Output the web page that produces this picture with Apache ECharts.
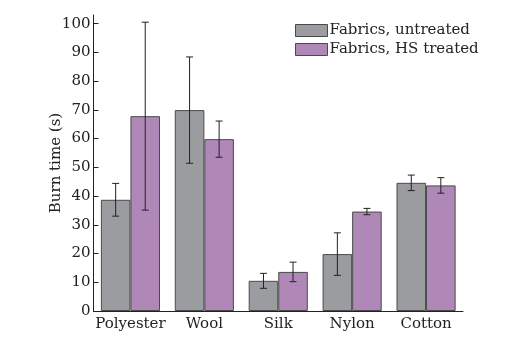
<!DOCTYPE html>
<html>
<head>
<meta charset="utf-8">
<script src="https://cdn.jsdelivr.net/npm/echarts@6/dist/echarts.min.js"></script>
<style>
html,body{margin:0;padding:0;background:#fff;}
#chart{width:532px;height:345px;}
</style>
</head>
<body>
<div id="chart"></div>
<script>
const categories = ['Polyester', 'Wool', 'Silk', 'Nylon', 'Cotton'];
const untreated = [38.7, 69.9, 10.5, 19.8, 44.6];
const untreatedErr = [5.7, 18.5, 2.6, 7.4, 2.7];
const treated = [67.8, 59.8, 13.6, 34.6, 43.7];
const treatedErr = [32.7, 6.3, 3.4, 1.1, 2.7];
const yTicks = [0, 10, 20, 30, 40, 50, 60, 70, 80, 90, 100];
const seriesNames = ['Fabrics, untreated', 'Fabrics, HS treated'];

const FONT = 'DejaVu Serif';
const TXT = '#222';

function errData(vals, errs) {
  return vals.map((v, i) => [i, v, errs[i]]);
}
function errRender(sign) {
  return function (params, api) {
    const i = api.value(0), v = api.value(1), e = api.value(2);
    const bw = api.size([1, 0])[0];
    const off = sign * bw * 0.2;
    const top = api.coord([i, v + e]);
    const bot = api.coord([i, v - e]);
    const x = top[0] + off;
    const c = 3.5;
    const st = { stroke: '#222', lineWidth: 1 };
    return {
      type: 'group',
      children: [
        { type: 'line', shape: { x1: x, y1: top[1], x2: x, y2: bot[1] }, style: st },
        { type: 'line', shape: { x1: x - c, y1: top[1], x2: x + c, y2: top[1] }, style: st },
        { type: 'line', shape: { x1: x - c, y1: bot[1], x2: x + c, y2: bot[1] }, style: st }
      ]
    };
  };
}

const chart = echarts.init(document.getElementById('chart'), null, { renderer: 'canvas' });
chart.setOption({
  animation: false,
  backgroundColor: '#fff',
  textStyle: { fontFamily: FONT, color: TXT },
  grid: { left: 93.5, right: 69, top: 15, bottom: 34, containLabel: false },
  legend: {
    data: seriesNames,
    orient: 'vertical',
    left: 295,
    top: 23,
    padding: 0,
    itemWidth: 32,
    itemHeight: 12,
    itemGap: 4,
    icon: 'rect',
    itemStyle: { borderWidth: 1, borderColor: '#4a4a4a' },
    textStyle: { fontFamily: FONT, fontSize: 15, color: TXT, padding: [0, 0, 0, -3] }
  },
  xAxis: {
    type: 'category',
    data: categories,
    axisLine: { lineStyle: { color: '#222', width: 1 } },
    axisTick: { inside: true, length: 5, lineStyle: { color: '#222' } },
    axisLabel: { fontFamily: FONT, fontSize: 15, color: TXT, margin: 6, interval: 0 },
    splitLine: { show: false }
  },
  yAxis: {
    type: 'value',
    min: 0,
    max: 103,
    interval: 10,
    name: 'Burn time (s)',
    nameLocation: 'middle',
    nameGap: 30,
    nameMoveOverlap: false,
    nameTextStyle: { fontFamily: FONT, fontSize: 15, color: TXT },
    axisLine: { show: true, lineStyle: { color: '#222', width: 1 } },
    axisTick: { show: true, inside: true, length: 5, lineStyle: { color: '#222' } },
    axisLabel: {
      fontFamily: FONT, fontSize: 15, color: TXT, margin: 3,
      showMaxLabel: false,
      formatter: v => (yTicks.indexOf(v) >= 0 ? String(v) : '')
    },
    splitLine: { show: false }
  },
  series: [
    {
      name: seriesNames[0], type: 'bar', data: untreated,
      barGap: '0%', barCategoryGap: '20%',
      itemStyle: { color: '#9b9c9f', borderColor: '#4a4a4a', borderWidth: 1 }
    },
    {
      name: seriesNames[1], type: 'bar', data: treated,
      barGap: '0%', barCategoryGap: '20%',
      itemStyle: { color: '#b088b8', borderColor: '#4a4a4a', borderWidth: 1 }
    },
    {
      type: 'custom', z: 5, data: errData(untreated, untreatedErr),
      encode: { x: 0, y: 1 }, renderItem: errRender(-1), silent: true
    },
    {
      type: 'custom', z: 5, data: errData(treated, treatedErr),
      encode: { x: 0, y: 1 }, renderItem: errRender(1), silent: true
    }
  ]
});
</script>
</body>
</html>
